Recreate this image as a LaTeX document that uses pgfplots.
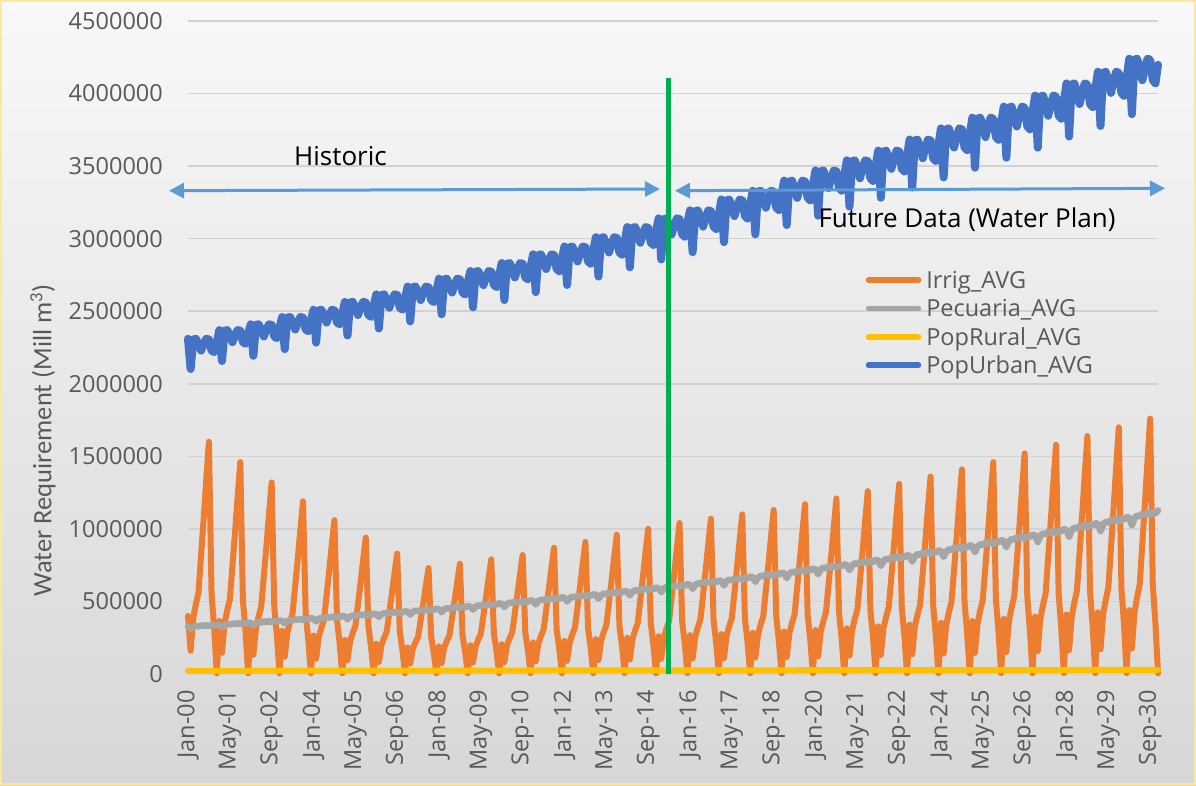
\documentclass[border=0pt]{standalone}
\usepackage{pgfplots}
\pgfplotsset{compat=1.18}
\usepackage{pgfplotstable}
\usepackage{fontspec}
\usetikzlibrary{arrows.meta}
\setmainfont{Open Sans}
\newfontfamily\carlito{Carlito}
\definecolor{irrig}{RGB}{237,125,49}
\definecolor{pecu}{RGB}{165,165,165}
\definecolor{rural}{RGB}{255,192,0}
\definecolor{urban}{RGB}{68,114,196}
\definecolor{txtgray}{RGB}{89,89,89}
\definecolor{gridgray}{RGB}{210,210,210}
\definecolor{arrowblue}{RGB}{91,155,213}
\definecolor{splitgreen}{RGB}{0,176,80}
\definecolor{bgtop}{RGB}{248,248,248}
\definecolor{bgbottom}{RGB}{215,215,215}
\definecolor{frameyellow}{RGB}{255,230,160}
\newcommand\tickfont{\fontsize{23.5}{28}\selectfont}
\newcommand\notefont{\fontsize{26}{31}\selectfont}

% monthly demand, Jan-00 (idx 0) to Dec-30 (idx 371)
\pgfplotstableread{
idx irr pec urb
0 400000 325000 2310000
1 160000 310000 2102000
2 384000 324000 2305000
3 480000 330000 2310000
4 560000 328000 2275000
5 816000 334000 2229000
6 1072000 332000 2275000
7 1344000 336000 2310000
8 1600000 331000 2305000
9 560000 337000 2229000
10 320000 334000 2218000
11 5000 340000 2287000
12 365000 338000 2370000
13 146000 322000 2157000
14 350000 337000 2365000
15 438000 343000 2370000
16 511000 341000 2334000
17 745000 347000 2287000
18 978000 345000 2334000
19 1226000 350000 2370000
20 1460000 344000 2365000
21 511000 350000 2287000
22 292000 348000 2275000
23 5000 354000 2346000
24 330000 352000 2410000
25 132000 336000 2193000
26 317000 351000 2405000
27 396000 357000 2410000
28 462000 355000 2374000
29 673000 362000 2326000
30 884000 359000 2374000
31 1109000 364000 2410000
32 1320000 358000 2405000
33 462000 365000 2326000
34 264000 362000 2314000
35 5000 369000 2386000
36 298000 366000 2460000
37 119000 349000 2239000
38 286000 365000 2455000
39 357000 372000 2460000
40 417000 370000 2423000
41 607000 376000 2374000
42 797000 374000 2423000
43 1000000 379000 2460000
44 1190000 373000 2455000
45 417000 380000 2374000
46 238000 377000 2362000
47 5000 384000 2435000
48 265000 381000 2510000
49 106000 363000 2284000
50 254000 380000 2505000
51 318000 387000 2510000
52 371000 385000 2472000
53 541000 392000 2422000
54 710000 389000 2472000
55 890000 394000 2510000
56 1060000 388000 2505000
57 371000 395000 2422000
58 212000 392000 2410000
59 5000 399000 2485000
60 235000 397000 2564000
61 94000 378000 2333000
62 226000 396000 2559000
63 282000 403000 2564000
64 329000 400000 2526000
65 479000 408000 2474000
66 630000 405000 2526000
67 790000 410000 2564000
68 940000 404000 2559000
69 329000 411000 2474000
70 188000 408000 2461000
71 5000 415000 2538000
72 208000 413000 2616000
73 83000 394000 2381000
74 199000 412000 2611000
75 249000 419000 2616000
76 291000 417000 2577000
77 423000 424000 2524000
78 556000 421000 2577000
79 697000 427000 2616000
80 830000 420000 2611000
81 291000 428000 2524000
82 166000 425000 2511000
83 5000 432000 2590000
84 183000 430000 2670000
85 73000 410000 2430000
86 175000 428000 2665000
87 219000 436000 2670000
88 256000 434000 2630000
89 372000 441000 2577000
90 489000 438000 2630000
91 613000 444000 2670000
92 730000 437000 2665000
93 256000 445000 2577000
94 146000 442000 2563000
95 5000 450000 2643000
96 190000 447000 2724000
97 76000 426000 2479000
98 182000 446000 2719000
99 228000 454000 2724000
100 266000 451000 2683000
101 388000 459000 2629000
102 509000 456000 2683000
103 638000 462000 2724000
104 760000 455000 2719000
105 266000 463000 2629000
106 152000 460000 2615000
107 5000 468000 2697000
108 198000 465000 2777000
109 79000 444000 2527000
110 190000 464000 2771000
111 237000 472000 2777000
112 277000 470000 2735000
113 403000 478000 2680000
114 529000 475000 2735000
115 664000 481000 2777000
116 790000 473000 2771000
117 277000 482000 2680000
118 158000 479000 2666000
119 5000 487000 2749000
120 205000 484000 2832000
121 82000 462000 2577000
122 197000 483000 2826000
123 246000 492000 2832000
124 287000 489000 2790000
125 418000 498000 2733000
126 549000 494000 2790000
127 689000 501000 2832000
128 820000 493000 2826000
129 287000 502000 2733000
130 164000 498000 2719000
131 5000 507000 2804000
132 218000 504000 2892000
133 87000 480000 2632000
134 209000 503000 2886000
135 261000 512000 2892000
136 305000 509000 2849000
137 444000 518000 2791000
138 583000 514000 2849000
139 731000 521000 2892000
140 870000 513000 2886000
141 305000 522000 2791000
142 174000 519000 2776000
143 5000 528000 2863000
144 228000 525000 2946000
145 91000 500000 2681000
146 218000 523000 2940000
147 273000 533000 2946000
148 319000 529000 2902000
149 464000 539000 2843000
150 610000 535000 2902000
151 764000 542000 2946000
152 910000 534000 2940000
153 319000 544000 2843000
154 182000 540000 2828000
155 5000 549000 2917000
156 240000 546000 3010000
157 96000 520000 2739000
158 230000 544000 3004000
159 288000 554000 3010000
160 336000 551000 2965000
161 490000 561000 2905000
162 643000 557000 2965000
163 806000 565000 3010000
164 960000 555000 3004000
165 336000 566000 2905000
166 192000 562000 2890000
167 5000 572000 2980000
168 250000 568000 3080000
169 100000 542000 2803000
170 240000 567000 3074000
171 300000 577000 3080000
172 350000 573000 3034000
173 510000 584000 2972000
174 670000 580000 3034000
175 840000 588000 3080000
176 1000000 578000 3074000
177 350000 589000 2972000
178 200000 585000 2957000
179 5000 595000 3049000
180 260000 591000 3140000
181 104000 564000 2857000
182 250000 590000 3134000
183 312000 600000 3140000
184 364000 597000 3093000
185 530000 607000 3030000
186 697000 603000 3093000
187 874000 611000 3140000
188 1040000 601000 3134000
189 364000 613000 3030000
190 208000 608000 3014000
191 5000 619000 3109000
192 268000 615000 3195000
193 107000 587000 2907000
194 257000 614000 3189000
195 321000 625000 3195000
196 375000 621000 3147000
197 546000 632000 3083000
198 717000 628000 3147000
199 899000 636000 3195000
200 1070000 626000 3189000
201 375000 638000 3083000
202 214000 633000 3067000
203 5000 644000 3163000
204 275000 641000 3270000
205 110000 610000 2976000
206 264000 639000 3263000
207 330000 650000 3270000
208 385000 646000 3221000
209 561000 658000 3156000
210 737000 653000 3221000
211 924000 662000 3270000
212 1100000 651000 3263000
213 385000 664000 3156000
214 220000 659000 3139000
215 5000 671000 3237000
216 283000 667000 3330000
217 113000 635000 3030000
218 271000 665000 3323000
219 339000 677000 3330000
220 396000 673000 3280000
221 576000 685000 3213000
222 757000 680000 3280000
223 949000 689000 3330000
224 1130000 678000 3323000
225 396000 691000 3213000
226 226000 686000 3197000
227 5000 698000 3297000
228 293000 694000 3400000
229 117000 661000 3094000
230 281000 692000 3393000
231 351000 704000 3400000
232 410000 700000 3349000
233 597000 712000 3281000
234 784000 708000 3349000
235 983000 717000 3400000
236 1170000 706000 3393000
237 410000 719000 3281000
238 234000 714000 3264000
239 5000 726000 3366000
240 303000 722000 3470000
241 121000 688000 3158000
242 290000 720000 3463000
243 363000 733000 3470000
244 424000 728000 3418000
245 617000 741000 3349000
246 811000 736000 3418000
247 1016000 746000 3470000
248 1210000 734000 3463000
249 424000 748000 3349000
250 242000 743000 3331000
251 5000 756000 3435000
252 315000 751000 3540000
253 126000 716000 3221000
254 302000 749000 3533000
255 378000 763000 3540000
256 441000 758000 3487000
257 643000 772000 3416000
258 844000 766000 3487000
259 1058000 777000 3540000
260 1260000 764000 3533000
261 441000 778000 3416000
262 252000 773000 3398000
263 5000 787000 3505000
264 328000 782000 3607000
265 131000 745000 3282000
266 314000 780000 3600000
267 393000 794000 3607000
268 459000 789000 3553000
269 668000 803000 3481000
270 878000 798000 3553000
271 1100000 809000 3607000
272 1310000 795000 3600000
273 459000 810000 3481000
274 262000 805000 3463000
275 5000 819000 3571000
276 340000 814000 3683000
277 136000 776000 3352000
278 326000 811000 3676000
279 408000 826000 3683000
280 476000 821000 3628000
281 694000 836000 3554000
282 911000 830000 3628000
283 1142000 841000 3683000
284 1360000 828000 3676000
285 476000 843000 3554000
286 272000 837000 3536000
287 5000 852000 3646000
288 353000 847000 3760000
289 141000 807000 3422000
290 338000 844000 3753000
291 423000 860000 3760000
292 494000 854000 3704000
293 719000 870000 3628000
294 945000 864000 3704000
295 1184000 876000 3760000
296 1410000 861000 3753000
297 494000 877000 3628000
298 282000 871000 3610000
299 5000 887000 3722000
300 365000 881000 3834000
301 146000 840000 3489000
302 350000 879000 3826000
303 438000 895000 3834000
304 511000 889000 3777000
305 745000 905000 3700000
306 978000 899000 3777000
307 1226000 911000 3834000
308 1460000 896000 3826000
309 511000 913000 3700000
310 292000 907000 3681000
311 5000 923000 3796000
312 380000 917000 3910000
313 152000 874000 3558000
314 365000 914000 3902000
315 456000 931000 3910000
316 532000 926000 3851000
317 775000 942000 3773000
318 1018000 936000 3851000
319 1277000 948000 3910000
320 1520000 933000 3902000
321 532000 950000 3773000
322 304000 944000 3754000
323 5000 960000 3871000
324 395000 955000 3986000
325 158000 910000 3627000
326 379000 952000 3978000
327 474000 969000 3986000
328 553000 963000 3926000
329 806000 980000 3847000
330 1059000 974000 3926000
331 1327000 987000 3986000
332 1580000 971000 3978000
333 553000 989000 3847000
334 316000 982000 3827000
335 5000 999000 3946000
336 410000 993000 4070000
337 164000 947000 3704000
338 394000 990000 4062000
339 492000 1008000 4070000
340 574000 1002000 4009000
341 836000 1020000 3928000
342 1099000 1013000 4009000
343 1378000 1027000 4070000
344 1640000 1010000 4062000
345 574000 1029000 3928000
346 328000 1022000 3907000
347 5000 1040000 4029000
348 425000 1034000 4150000
349 170000 985000 3777000
350 408000 1031000 4142000
351 510000 1049000 4150000
352 595000 1043000 4088000
353 867000 1062000 4005000
354 1139000 1055000 4088000
355 1428000 1069000 4150000
356 1700000 1051000 4142000
357 595000 1071000 4005000
358 340000 1064000 3984000
359 5000 1082000 4109000
360 440000 1076000 4240000
361 176000 1025000 3858000
362 422000 1073000 4232000
363 528000 1092000 4240000
364 616000 1086000 4176000
365 898000 1105000 4092000
366 1179000 1097000 4176000
367 1478000 1113000 4240000
368 1760000 1094000 4232000
369 616000 1115000 4092000
370 352000 1107000 4070000
371 5000 1127000 4198000
}\demand

\begin{document}
\begin{tikzpicture}
\path[use as bounding box] (0pt,0pt) rectangle (1196pt,785pt);
\shade[top color=bgtop, bottom color=bgbottom] (0pt,0pt) rectangle (1196pt,785pt);
\draw[frameyellow, line width=2pt] (1pt,1pt) rectangle (1195pt,784pt);

\begin{axis}[
  at={(188pt,111pt)}, anchor=south west,
  width=970pt, height=653pt, scale only axis,
  xmin=0, xmax=371, ymin=0, ymax=4500000,
  clip=false,
  axis line style={draw=none},
  major tick length=0pt,
  xtick={0,16,...,368},
  xticklabels={Jan-00,May-01,Sep-02,Jan-04,May-05,Sep-06,Jan-08,May-09,Sep-10,Jan-12,May-13,Sep-14,Jan-16,May-17,Sep-18,Jan-20,May-21,Sep-22,Jan-24,May-25,Sep-26,Jan-28,May-29,Sep-30},
  xticklabel style={rotate=90, anchor=east, inner sep=0pt, font=\tickfont, text=txtgray},
  xticklabel shift=16pt,
  ytick={0,500000,...,4500000},
  scaled y ticks=false,
  yticklabel style={inner sep=0pt, font=\tickfont, text=txtgray,
    /pgf/number format/fixed, /pgf/number format/precision=0,
    /pgf/number format/1000 sep={}, /pgf/number format/assume math mode=true},
  yticklabel shift=25pt,
  ymajorgrids,
  grid style={draw=gridgray, line width=1.5pt},
  legend style={at={(axis description cs:0.6985,0.625)}, anchor=north west,
    draw=none, fill=none, font=\tickfont, text=txtgray,
    inner sep=0pt, row sep=0pt, column sep=5pt,
    nodes={inner sep=0pt, text height=22.5pt, text depth=5.8pt}},
  legend cell align=left,
  legend image code/.code={\draw[#1, line width=5.5pt, line cap=round] (0pt,0pt) -- (50pt,0pt);},
  every axis plot/.append style={line join=round, line cap=round},
]
\addplot[irrig, line width=6pt] table[x=idx, y=irr] {\demand};
\addplot[pecu, line width=6.5pt] table[x=idx, y=pec] {\demand};
\addplot[rural, line width=6pt] coordinates {
(0,22000) (12,22200) (24,22400) (36,22600) (48,22800) (60,23000) (72,23200) (84,23400)
(96,23600) (108,23800) (120,24000) (132,24200) (144,24400) (156,24600) (168,24800) (180,25000)
(192,25200) (204,25400) (216,25600) (228,25800) (240,26000) (252,26200) (264,26400) (276,26600)
(288,26800) (300,27000) (312,27200) (324,27400) (336,27600) (348,27800) (360,28000) (371,28200)};
\addplot[urban, line width=8pt] table[x=idx, y=urb] {\demand};
\legend{Irrig\_AVG, Pecuaria\_AVG, PopRural\_AVG, PopUrban\_AVG}
% boundary between recorded and planned demand
\draw[splitgreen, line width=5pt] (axis cs:183.6,0) -- (axis cs:183.6,4107000);
\end{axis}

% period annotations
\draw[arrowblue, line width=3pt, {Triangle[length=15pt,width=15pt]}-{Triangle[length=15pt,width=15pt]}]
  (169pt,594.3pt) -- (660pt,596pt);
\draw[arrowblue, line width=3pt, {Triangle[length=15pt,width=15pt]}-{Triangle[length=15pt,width=15pt]}]
  (675pt,594.3pt) -- (1165pt,596.7pt);
\node[anchor=base, font=\notefont, inner sep=0pt] at (340.5pt,619pt) {Historic};
\node[anchor=base, font=\notefont, inner sep=0pt] at (967pt,557pt) {Future Data (Water Plan)};

\node[rotate=90, font=\carlito\fontsize{26.5}{30}\selectfont, text=txtgray, inner sep=0pt]
  at (43pt,344.5pt) {Water Requirement (Mill m\textsuperscript{3})};
\end{tikzpicture}
\end{document}
